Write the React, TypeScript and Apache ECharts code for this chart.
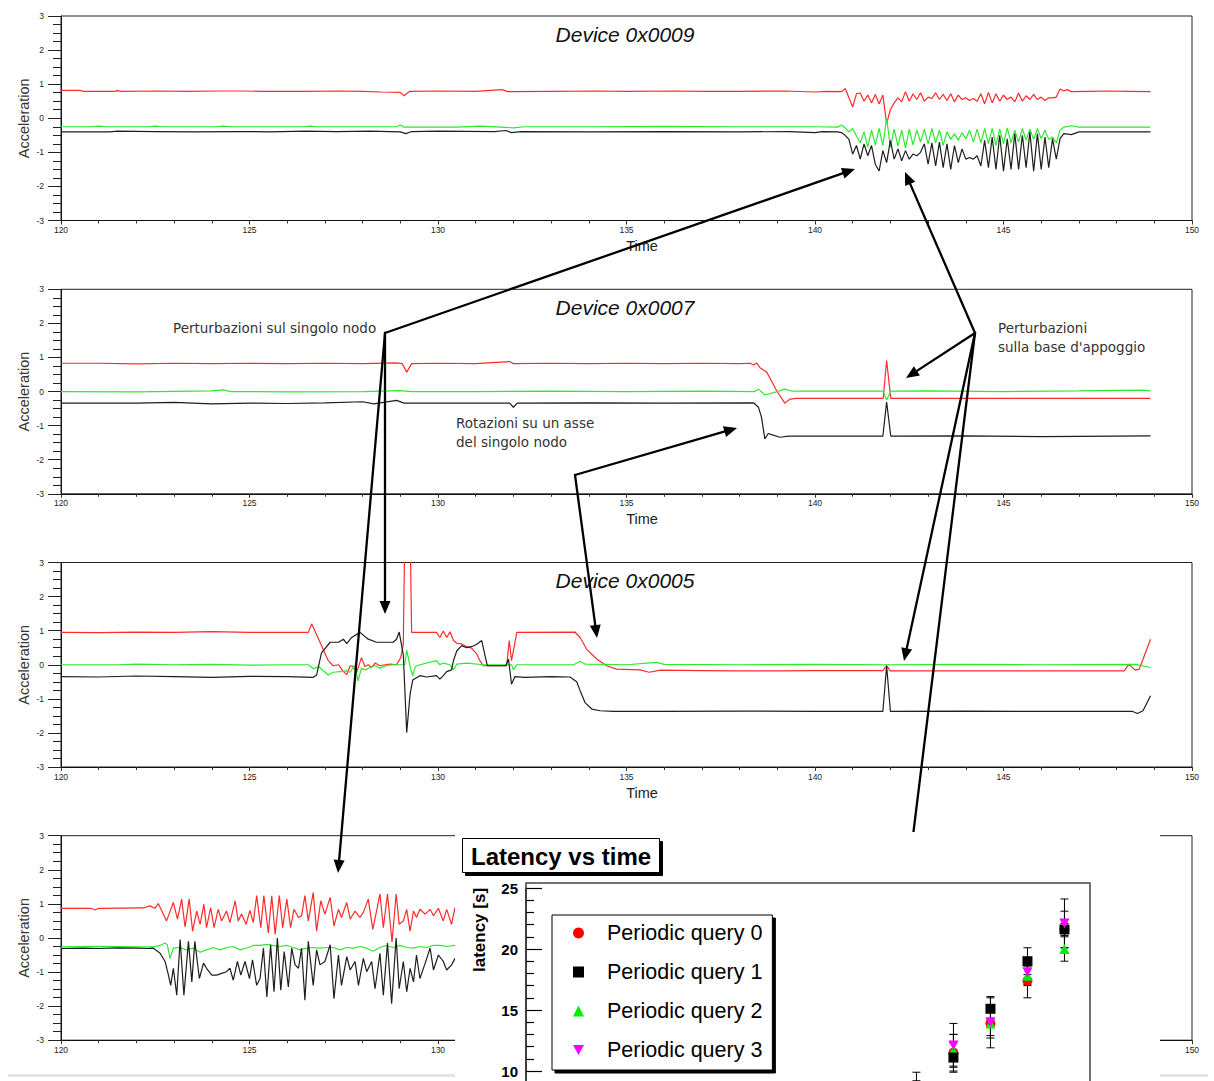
import React, { useEffect, useRef } from "react";
import * as echarts from "echarts";

type Pt = [number, number];

// ---------- accelerometer panels ----------
const timeMin = 120;
const timeMax = 150;
const accMin = -3;
const accMax = 3;
const panelTitles = ["Device 0x0009", "Device 0x0007", "Device 0x0005", ""];

// Device 0x0009
const dev9X: Pt[] = [
  [120, 0.82], [120.5, 0.82], [120.6, 0.79], [121.4, 0.79], [121.5, 0.81], [121.6, 0.79], [122.6, 0.8], [123.3, 0.79],
  [124.2, 0.8], [124.8, 0.8], [125.3, 0.79], [126.5, 0.79], [127.4, 0.8], [128.0, 0.79], [128.5, 0.77], [129.0, 0.76],
  [129.1, 0.66], [129.25, 0.79], [130, 0.8], [131.0, 0.79], [131.7, 0.84], [131.85, 0.78], [133, 0.79], [134.2, 0.8],
  [135, 0.79], [136.3, 0.8], [137, 0.79], [138, 0.79], [139.2, 0.8], [140.0, 0.77], [140.3, 0.79], [140.7, 0.78],
  [140.8, 0.87], [140.9, 0.6], [141.0, 0.33], [141.1, 0.72], [141.2, 0.74], [141.3, 0.5], [141.4, 0.68], [141.5, 0.45],
  [141.6, 0.7], [141.7, 0.42], [141.8, 0.68], [141.9, -0.16], [142.0, 0.25], [142.1, 0.45], [142.2, 0.6], [142.3, 0.48],
  [142.4, 0.78], [142.5, 0.5], [142.6, 0.72], [142.7, 0.55], [142.8, 0.75], [142.9, 0.5], [143.0, 0.62], [143.1, 0.58],
  [143.2, 0.75], [143.3, 0.55], [143.4, 0.7], [143.5, 0.52], [143.6, 0.72], [143.7, 0.48], [143.8, 0.68], [143.9, 0.55],
  [144.0, 0.6], [144.1, 0.52], [144.2, 0.58], [144.3, 0.5], [144.4, 0.72], [144.5, 0.42], [144.6, 0.76], [144.7, 0.45],
  [144.8, 0.72], [144.9, 0.5], [145.0, 0.68], [145.1, 0.55], [145.2, 0.62], [145.3, 0.48], [145.4, 0.74], [145.5, 0.5],
  [145.6, 0.66], [145.7, 0.55], [145.8, 0.7], [145.9, 0.55], [146.0, 0.62], [146.1, 0.52], [146.2, 0.6], [146.3, 0.6],
  [146.4, 0.62], [146.5, 0.86], [146.6, 0.8], [146.7, 0.84], [146.8, 0.78], [147.3, 0.79], [147.8, 0.8], [148.3, 0.79],
  [148.9, 0.78],
];
const dev9Y: Pt[] = [
  [120, -0.25], [120.8, -0.25], [121.0, -0.23], [121.2, -0.25], [122.3, -0.25], [122.5, -0.23], [122.7, -0.25],
  [124.1, -0.25], [124.3, -0.23], [124.5, -0.25], [126.4, -0.25], [126.6, -0.23], [126.8, -0.25], [128.9, -0.25],
  [129.0, -0.2], [129.1, -0.26], [130.5, -0.26], [131.1, -0.23], [131.3, -0.24], [132.0, -0.28], [132.3, -0.25],
  [134, -0.25], [136, -0.24], [138, -0.25], [140, -0.25], [140.6, -0.26],
  [140.7, -0.2], [140.8, -0.28], [140.9, -0.4], [141.0, -0.3], [141.1, -0.52], [141.2, -0.72], [141.3, -0.4],
  [141.4, -0.85], [141.5, -0.35], [141.6, -0.78], [141.7, -0.3], [141.8, -0.8], [141.9, 0.0], [142.0, -0.85],
  [142.1, -0.32], [142.2, -0.82], [142.3, -0.35], [142.4, -0.88], [142.5, -0.32], [142.6, -0.78], [142.7, -0.35],
  [142.8, -0.7], [142.9, -0.32], [143.0, -0.75], [143.1, -0.3], [143.2, -0.72], [143.3, -0.35], [143.4, -0.8],
  [143.5, -0.4], [143.6, -0.62], [143.7, -0.45], [143.8, -0.65], [143.9, -0.42], [144.0, -0.6], [144.1, -0.35],
  [144.2, -0.7], [144.3, -0.32], [144.4, -0.72], [144.5, -0.3], [144.6, -0.75], [144.7, -0.3], [144.8, -0.8],
  [144.9, -0.32], [145.0, -0.75], [145.1, -0.28], [145.2, -0.72], [145.3, -0.35], [145.4, -0.7], [145.5, -0.3],
  [145.6, -0.65], [145.7, -0.32], [145.8, -0.62], [145.9, -0.3], [146.0, -0.6], [146.1, -0.35], [146.2, -0.62],
  [146.3, -0.55], [146.4, -0.72], [146.5, -0.35], [146.6, -0.26], [146.8, -0.22], [147.0, -0.26], [148, -0.26],
  [148.9, -0.26],
];
const dev9Z: Pt[] = [
  [120, -0.4], [121.3, -0.4], [121.5, -0.38], [122.5, -0.39], [123.5, -0.4], [124.8, -0.39], [125.5, -0.4],
  [126.5, -0.38], [127.3, -0.39], [128.2, -0.38], [129.0, -0.4], [129.15, -0.45], [129.3, -0.39], [130, -0.38],
  [131.5, -0.39], [131.8, -0.36], [131.95, -0.42], [132.2, -0.39], [134, -0.4], [136, -0.39], [138, -0.4],
  [139.3, -0.39], [140.0, -0.42], [140.2, -0.39], [140.6, -0.4],
  [140.7, -0.42], [140.8, -0.5], [140.9, -0.62], [141.0, -1.05], [141.1, -0.8], [141.2, -1.2], [141.3, -0.75],
  [141.4, -1.1], [141.5, -0.8], [141.6, -1.35], [141.7, -1.55], [141.8, -0.95], [141.9, -1.3], [142.0, -0.65],
  [142.1, -1.2], [142.2, -0.9], [142.3, -1.25], [142.4, -0.95], [142.5, -1.2], [142.6, -1.05], [142.7, -1.1],
  [142.8, -1.0], [142.9, -0.75], [143.0, -1.35], [143.1, -0.72], [143.2, -1.4], [143.3, -0.7], [143.4, -1.45],
  [143.5, -0.75], [143.6, -1.5], [143.7, -0.8], [143.8, -1.3], [143.9, -0.9], [144.0, -1.2], [144.1, -1.15],
  [144.2, -1.2], [144.3, -1.1], [144.4, -1.4], [144.5, -0.65], [144.6, -1.45], [144.7, -0.55], [144.8, -1.5],
  [144.9, -0.5], [145.0, -1.55], [145.1, -0.6], [145.2, -1.5], [145.3, -0.45], [145.4, -1.5], [145.5, -0.5],
  [145.6, -1.45], [145.7, -0.4], [145.8, -1.55], [145.9, -0.45], [146.0, -1.5], [146.1, -0.55], [146.2, -1.45],
  [146.3, -0.6], [146.4, -1.2], [146.5, -0.6], [146.6, -0.45], [146.8, -0.48], [147, -0.4], [148, -0.4], [148.9, -0.4],
];

// Device 0x0007
const dev7X: Pt[] = [
  [120, 0.83], [121, 0.83], [122, 0.81], [123, 0.83], [124, 0.82], [125, 0.83], [126, 0.82], [127, 0.83], [128, 0.82],
  [128.9, 0.84], [129.05, 0.82], [129.17, 0.57], [129.3, 0.82], [130, 0.83], [131, 0.82], [131.9, 0.88], [132.0, 0.82],
  [133, 0.83], [134, 0.82], [135, 0.83], [136, 0.82], [137, 0.83], [138, 0.82], [138.28, 0.83], [138.37, 0.78],
  [138.45, 0.84], [138.54, 0.7], [138.72, 0.57], [138.98, 0.03], [139.2, -0.34], [139.34, -0.22], [139.5, -0.2],
  [141.81, -0.2], [141.9, 0.91], [142.01, -0.2], [144, -0.2], [146, -0.2], [148.9, -0.2],
];
const dev7Y: Pt[] = [
  [120, 0.0], [122, -0.01], [124, 0.02], [124.3, 0.05], [124.5, 0.0], [126, -0.01], [128, 0.0], [129, 0.03],
  [129.3, 0.0], [131, 0.0], [133, 0.01], [135, 0.0], [137, 0.01], [138.4, 0.0], [138.5, 0.07], [138.67, -0.1],
  [139.0, 0.0], [139.2, 0.07], [139.4, 0.01], [141.81, 0.01], [141.9, -0.25], [142.01, 0.01], [143, 0.02],
  [145, 0.0], [147, 0.02], [148.7, 0.04], [148.9, 0.02],
];
const dev7Z: Pt[] = [
  [120, -0.34], [122, -0.34], [123, -0.32], [124, -0.36], [125, -0.34], [126, -0.35], [127, -0.33], [128, -0.3],
  [128.3, -0.36], [128.9, -0.26], [129.1, -0.34], [131.9, -0.34], [132.0, -0.46], [132.1, -0.34], [134, -0.33],
  [136, -0.34], [138.37, -0.33], [138.5, -0.46], [138.58, -0.75], [138.67, -1.39], [138.76, -1.23], [138.89, -1.28],
  [139.07, -1.34], [139.3, -1.31], [141.8, -1.31], [141.9, -0.31], [142.01, -1.31], [144, -1.3], [146, -1.32],
  [148.9, -1.3],
];

// Device 0x0005
const dev5X: Pt[] = [
  [120, 0.95], [121, 0.94], [122, 0.96], [123, 0.95], [124, 0.97], [125, 0.95], [126, 0.95], [126.56, 0.95],
  [126.65, 1.2], [126.87, 0.66], [127.09, 0.12], [127.22, -0.03], [127.36, 0.0], [127.49, -0.2], [127.58, -0.29],
  [127.67, -0.03], [127.75, -0.05], [127.84, -0.23], [127.97, 0.21], [128.06, -0.05], [128.15, 0.0], [128.24, -0.08],
  [128.33, 0.05], [128.46, -0.03], [128.59, 0.0], [128.73, 0.02], [128.9, 0.0], [129.01, 0.21], [129.08, 0.6],
  [129.12, 4], [129.26, 4], [129.3, 0.95], [129.96, 0.95], [130.05, 0.8], [130.14, 0.99], [130.23, 0.8],
  [130.32, 0.97], [130.41, 0.71], [130.5, 0.63], [130.63, 0.61], [130.76, 0.53], [130.89, 0.49], [131.03, 0.31],
  [131.11, 0.12], [131.2, -0.03], [131.82, -0.03], [131.89, 0.71], [131.95, 0.12], [132.0, 0.41], [132.09, 0.95],
  [133.63, 0.96], [133.77, 0.8], [133.94, 0.46], [134.21, 0.17], [134.47, -0.03], [134.74, -0.13], [135.36, -0.15],
  [135.6, -0.22], [135.9, -0.16], [137, -0.17], [138, -0.18], [139, -0.18], [140, -0.17], [141.8, -0.17],
  [141.9, -0.03], [142.0, -0.18], [144, -0.18], [146, -0.18], [147.81, -0.18], [148.2, -0.18], [148.33, 0.02],
  [148.49, -0.16], [148.6, -0.13], [148.9, 0.75],
];
const dev5Y: Pt[] = [
  [120, 0.0], [121.5, 0.0], [122, 0.02], [123, 0.0], [124, 0.01], [125, -0.01], [126, 0.0], [126.56, 0.0],
  [126.7, -0.12], [126.83, -0.05], [127.09, -0.3], [127.22, -0.22], [127.4, -0.2], [127.58, -0.18], [127.67, -0.22],
  [127.79, -0.02], [127.88, -0.47], [127.97, -0.1], [128.06, -0.15], [128.2, -0.08], [128.33, -0.02], [128.46, -0.1],
  [128.64, -0.02], [128.81, 0.0], [128.97, 0.0], [129.12, 0.0], [129.17, 0.43], [129.26, -0.05], [129.33, -0.32],
  [129.4, -0.05], [129.52, 0.0], [129.96, 0.12], [130.05, 0.0], [130.14, 0.05], [130.32, 0.0], [130.41, -0.15],
  [130.5, 0.02], [130.76, 0.05], [131.2, 0.0], [131.95, 0.0], [132.0, -0.15], [132.09, 0.0], [133.6, 0.0],
  [133.77, 0.1], [133.9, 0.02], [135.0, 0.0], [135.8, 0.07], [136, 0.01], [138, 0.0], [140, 0.01], [142, 0.0],
  [144, 0.01], [146, 0.0], [148.5, 0.01], [148.9, -0.08],
];
const dev5Z: Pt[] = [
  [120, -0.35], [121, -0.36], [122, -0.33], [123, -0.35], [124, -0.37], [125, -0.34], [126, -0.35], [126.69, -0.37],
  [126.78, -0.3], [126.91, 0.35], [127.14, 0.66], [127.36, 0.66], [127.49, 0.75], [127.58, 0.62], [127.71, 0.8],
  [127.93, 0.95], [128.15, 0.75], [128.37, 0.66], [128.81, 0.66], [128.9, 0.75], [128.97, 0.96], [129.08, 0.3],
  [129.17, -1.99], [129.26, -0.86], [129.33, -0.45], [129.52, -0.32], [129.7, -0.36], [129.96, -0.32],
  [130.05, -0.42], [130.14, -0.32], [130.23, -0.2], [130.36, -0.15], [130.41, 0.12], [130.5, 0.41], [130.63, 0.56],
  [130.76, 0.5], [130.89, 0.53], [131.03, 0.6], [131.16, 0.71], [131.25, 0.25], [131.31, -0.03], [131.8, -0.03],
  [131.87, 0.17], [131.95, -0.57], [132.04, -0.35], [132.3, -0.37], [133.0, -0.35], [133.5, -0.36], [133.68, -0.5],
  [133.77, -0.76], [133.9, -1.11], [134.08, -1.3], [134.3, -1.35], [134.65, -1.37], [136, -1.37], [138, -1.36],
  [140, -1.37], [141.8, -1.37], [141.9, -0.03], [142.0, -1.37], [144, -1.36], [146, -1.37], [148.43, -1.37],
  [148.55, -1.43], [148.7, -1.35], [148.9, -0.91],
];

// Fourth device (trace continues under the latency inset)
const dev4X: Pt[] = [
  [120, 0.87], [120.8, 0.87], [120.9, 0.82], [121.0, 0.87], [122.18, 0.88], [122.36, 0.94], [122.49, 0.87],
  [122.58, 1.01], [122.8, 0.5], [122.98, 1.04], [123.09, 0.55], [123.2, 1.14], [123.29, 0.32], [123.4, 1.14],
  [123.49, 0.2], [123.6, 0.79], [123.69, 0.4], [123.79, 0.99], [123.86, 0.3], [123.97, 0.89], [124.06, 0.3],
  [124.17, 0.84], [124.26, 0.5], [124.39, 0.79], [124.48, 0.45], [124.62, 1.09], [124.7, 0.5], [124.79, 0.7],
  [124.91, 0.4], [125.01, 0.81], [125.1, 0.45], [125.19, 1.24], [125.3, 0.3], [125.38, 1.24], [125.5, 0.15],
  [125.59, 1.24], [125.68, 0.1], [125.79, 1.24], [125.88, 0.3], [125.99, 1.14], [126.09, 0.3], [126.18, 0.84],
  [126.3, 0.6], [126.38, 0.65], [126.47, 1.24], [126.56, 0.5], [126.69, 1.33], [126.78, 0.2], [126.89, 1.09],
  [127.0, 0.7], [127.14, 1.19], [127.24, 0.35], [127.36, 0.84], [127.44, 0.6], [127.58, 1.04], [127.67, 0.55],
  [127.8, 0.79], [127.93, 0.6], [128.02, 0.75], [128.15, 1.14], [128.27, 0.25], [128.37, 0.79], [128.46, 1.29],
  [128.55, 0.3], [128.66, 1.29], [128.78, -0.12], [128.89, 1.29], [128.97, 0.4], [129.08, 0.5], [129.17, 0.84],
  [129.26, 0.2], [129.35, 0.79], [129.43, 0.6], [129.52, 0.84], [129.66, 0.7], [129.79, 0.84], [129.88, 0.65],
  [130.01, 0.87], [130.14, 0.5], [130.23, 0.84], [130.36, 0.4], [130.45, 0.89], [130.58, 0.6],
];
const dev4Y: Pt[] = [
  [120, -0.26], [121, -0.25], [122, -0.26], [122.45, -0.26], [122.63, -0.22], [122.76, -0.15], [122.82, -0.2],
  [122.89, -0.6], [122.98, -0.3], [123.15, -0.28], [123.33, -0.35], [123.5, -0.3], [123.69, -0.42], [123.86, -0.35],
  [124.04, -0.28], [124.22, -0.35], [124.39, -0.28], [124.57, -0.25], [124.75, -0.35], [124.97, -0.28], [125.1, -0.22],
  [125.28, -0.22], [125.46, -0.19], [125.63, -0.22], [125.81, -0.25], [125.99, -0.22], [126.16, -0.28],
  [126.34, -0.35], [126.52, -0.3], [126.69, -0.28], [126.87, -0.3], [127.05, -0.28], [127.22, -0.28], [127.4, -0.35],
  [127.58, -0.28], [127.75, -0.3], [127.93, -0.25], [128.11, -0.3], [128.28, -0.39], [128.46, -0.28], [128.64, -0.22],
  [128.81, -0.28], [128.99, -0.22], [129.17, -0.28], [129.35, -0.3], [129.52, -0.25], [129.7, -0.28], [129.88, -0.22],
  [130.05, -0.22], [130.23, -0.25], [130.45, -0.22], [130.6, -0.22],
];
const dev4Z: Pt[] = [
  [120, -0.31], [120.6, -0.3], [121, -0.31], [121.5, -0.29], [122, -0.3], [122.3, -0.31], [122.45, -0.3],
  [122.63, -0.45], [122.76, -0.69], [122.85, -1.09], [122.91, -1.39], [122.98, -0.89], [123.07, -1.68],
  [123.16, -0.05], [123.26, -1.68], [123.38, -0.1], [123.47, -1.29], [123.55, -0.1], [123.67, -1.19],
  [123.78, -0.74], [123.86, -0.89], [124.0, -1.09], [124.13, -1.09], [124.26, -1.04], [124.39, -0.99],
  [124.48, -0.89], [124.57, -1.24], [124.68, -0.69], [124.77, -1.09], [124.88, -0.69], [125.0, -1.19],
  [125.08, -0.64], [125.19, -1.39], [125.28, -1.19], [125.37, -0.3], [125.46, -1.73], [125.56, -0.2],
  [125.65, -1.58], [125.74, 0.0], [125.83, -1.53], [125.92, -0.4], [126.03, -1.44], [126.12, -0.3], [126.21, -0.79],
  [126.3, -0.89], [126.38, -0.3], [126.47, -1.83], [126.56, -0.1], [126.69, -1.39], [126.78, -0.35], [126.87, -0.79],
  [127.0, -0.69], [127.14, -0.2], [127.24, -1.78], [127.36, -0.5], [127.44, -1.39], [127.58, -0.55], [127.67, -0.94],
  [127.8, -0.69], [127.89, -1.39], [128.02, -0.6], [128.11, -0.99], [128.24, -0.69], [128.33, -1.49], [128.46, -0.45],
  [128.55, -1.68], [128.66, -0.15], [128.77, -1.93], [128.89, 0.0], [128.97, -1.49], [129.08, -0.69], [129.17, -1.58],
  [129.26, -0.89], [129.35, -1.29], [129.43, -0.5], [129.52, -1.19], [129.66, -0.74], [129.79, -0.3], [129.88, -0.94],
  [130.01, -0.5], [130.14, -0.69], [130.23, -0.94], [130.36, -0.79], [130.45, -0.6], [130.58, -0.89],
];

const panelSeries: Pt[][][] = [
  [dev9X, dev9Y, dev9Z],
  [dev7X, dev7Y, dev7Z],
  [dev5X, dev5Y, dev5Z],
  [dev4X, dev4Y, dev4Z],
];
const axisColors = ["#ff2a2a", "#2eea2e", "#1e1e1e"];
// the fourth panel's time labels between 130 and 150 sit under the inset
const panel4VisibleTicks = [120, 125, 130, 150];

// ---------- latency inset ----------
const latencyTimes = [10, 11, 12, 13, 14];
const latencyNames = ["Periodic query 0", "Periodic query 1", "Periodic query 2", "Periodic query 3"];
const query0 = [7.6, 11.5, 13.9, 17.4, 21.6];
const query1 = [7.9, 11.1, 15.1, 19.0, 21.6];
const query2 = [7.4, 11.7, 13.9, 17.8, 20.0];
const query3 = [7.3, 12.1, 14.0, 18.1, 22.1];
const query0Err = [1.6, 1.5, 1.0, 1.4, 0.5];
const query1Err = [2.0, 1.2, 0.9, 1.1, 1.5];
const query2Err = [1.5, 1.3, 1.2, 0.8, 1.0];
const query3Err = [1.6, 1.8, 2.1, 1.0, 2.0];
const latencyTicks = { min: 0, max: 25, step: 5, firstShown: 10 };

// ---------- layout ----------
const panelTops = [16, 289.3, 562.5, 835.7];
const panelHeight = 204.5;
const sansFont = '"Liberation Sans", Arial, sans-serif';
const noteFont = '13.5px "DejaVu Sans", Verdana, sans-serif';

type XY = [number, number];

function arrow(from: XY, to: XY, withHead = true): any[] {
  const dx = to[0] - from[0];
  const dy = to[1] - from[1];
  const len = Math.hypot(dx, dy);
  const ux = dx / len;
  const uy = dy / len;
  const headLen = 13;
  const half = 5.5;
  const end: XY = withHead ? [to[0] - ux * 8, to[1] - uy * 8] : to;
  const out: any[] = [
    {
      type: "line",
      z: 100,
      shape: { x1: from[0], y1: from[1], x2: end[0], y2: end[1] },
      style: { stroke: "#000", lineWidth: 2.3, lineCap: "round" },
    },
  ];
  if (withHead) {
    const bx = to[0] - ux * headLen;
    const by = to[1] - uy * headLen;
    out.push({
      type: "polygon",
      z: 101,
      shape: {
        points: [
          [to[0], to[1]],
          [bx - uy * half, by + ux * half],
          [bx + uy * half, by - ux * half],
        ],
      },
      style: { fill: "#000" },
    });
  }
  return out;
}

function note(text: string, x: number, y: number, font: string, align = "left", fill = "#333"): any {
  return {
    type: "text",
    z: 102,
    x,
    y,
    style: {
      text,
      font,
      fill,
      align,
      verticalAlign: "middle",
      textAlign: align,
      textVerticalAlign: "middle",
    },
  };
}

function buildMainOption(): any {
  const grid = panelTops.map((top) => ({
    left: 61,
    right: 22,
    top,
    height: panelHeight,
    show: true,
    borderColor: "#222",
    borderWidth: 1,
    backgroundColor: "transparent",
  }));

  const xAxis = panelTops.map((_, i) => ({
    gridIndex: i,
    type: "value",
    min: timeMin,
    max: timeMax,
    interval: 5,
    name: i < 3 ? "Time" : "",
    nameLocation: "middle",
    nameGap: 18,
    nameMoveOverlap: false,
    nameTextStyle: { fontSize: 14.5, color: "#222", fontFamily: sansFont, padding: [0, 0, 0, 31] },
    axisLine: { show: true, onZero: false, lineStyle: { color: "#111", width: 1 } },
    axisTick: { show: true, length: 4, lineStyle: { color: "#333" } },
    minorTick: { show: true, splitNumber: 5, length: 3, lineStyle: { color: "#333" } },
    axisLabel: {
      fontSize: 8.5,
      color: "#222",
      margin: 5,
      fontFamily: sansFont,
      formatter: (v: number) => (i < 3 || panel4VisibleTicks.includes(v) ? String(v) : ""),
    },
    splitLine: { show: false },
    minorSplitLine: { show: false },
  }));

  const yAxis = panelTops.map((_, i) => ({
    gridIndex: i,
    type: "value",
    min: accMin,
    max: accMax,
    interval: 1,
    name: "Acceleration",
    nameLocation: "middle",
    nameGap: 30,
    nameMoveOverlap: false,
    nameTextStyle: { fontSize: 14.5, color: "#3a3330", fontFamily: sansFont },
    axisLine: { show: true, onZero: false, lineStyle: { color: "#111", width: 1 } },
    axisTick: { show: true, length: 13, lineStyle: { color: "#222" } },
    minorTick: { show: true, splitNumber: 4, length: 8, lineStyle: { color: "#222" } },
    axisLabel: { fontSize: 8.5, color: "#222", margin: 17, fontFamily: sansFont },
    splitLine: { show: false },
    minorSplitLine: { show: false },
  }));

  const series: any[] = [];
  panelSeries.forEach((traces, i) => {
    traces.forEach((data, k) => {
      series.push({
        type: "line",
        name: `panel${i}-${k}`,
        xAxisIndex: i,
        yAxisIndex: i,
        data,
        symbol: "none",
        showSymbol: false,
        clip: true,
        lineStyle: { color: axisColors[k], width: 1.2 },
        itemStyle: { color: axisColors[k] },
        z: 2 + k,
      });
    });
  });

  const A: XY = [385, 333];
  const B: XY = [575, 475];
  const C: XY = [975, 333];

  const graphic: any[] = [
    { type: "rect", z: 1, shape: { x: 8, y: 1074, width: 1200, height: 3 }, style: { fill: "#e4e4e8" } },
    ...panelTitles
      .filter((t) => t)
      .map((t, i) => note(t, 625, panelTops[i] + 18, `italic 21px ${sansFont}`, "center", "#111")),
    note("Perturbazioni sul singolo nodo", 173, 328, noteFont),
    note("Rotazioni su un asse", 456, 423, noteFont),
    note("del singolo nodo", 456, 442, noteFont),
    note("Perturbazioni", 998, 328, noteFont),
    note("sulla base d'appoggio", 998, 347, noteFont),
    ...arrow(A, [855, 169]),
    ...arrow(A, [385, 614]),
    ...arrow(A, [338, 873]),
    ...arrow(B, [737, 428]),
    ...arrow(B, [597, 638]),
    ...arrow(C, [905, 172]),
    ...arrow(C, [906, 378]),
    ...arrow(C, [904, 661]),
    ...arrow(C, [910, 860], false),
  ];

  return {
    animation: false,
    backgroundColor: "#fff",
    textStyle: { fontFamily: sansFont },
    grid,
    xAxis,
    yAxis,
    series,
    graphic,
  };
}

function buildLatencyOption(): any {
  const queries = [
    { name: latencyNames[0], values: query0, err: query0Err, color: "#ff0000", symbol: "circle", size: 10 },
    { name: latencyNames[1], values: query1, err: query1Err, color: "#000000", symbol: "rect", size: 10 },
    { name: latencyNames[2], values: query2, err: query2Err, color: "#00ee00", symbol: "triangle", size: 10 },
    { name: latencyNames[3], values: query3, err: query3Err, color: "#ff00ff", symbol: "path://M0,0L10,0L5,9Z", size: 10 },
  ];
  // drawing order: red, green, black, magenta on top
  const drawOrder = [0, 2, 1, 3];

  const errorSeries = queries.map((q) => ({
    type: "custom",
    name: q.name + " error",
    xAxisIndex: 0,
    yAxisIndex: 0,
    z: 2,
    data: latencyTimes.map((t, i) => [t, q.values[i], q.err[i]]),
    encode: { x: 0, y: 1 },
    renderItem: (_params: any, api: any) => {
      const t = api.value(0);
      const v = api.value(1);
      const e = api.value(2);
      const hi = api.coord([t, v + e]);
      const lo = api.coord([t, v - e]);
      const s = { stroke: "#000", lineWidth: 1 };
      return {
        type: "group",
        children: [
          { type: "line", shape: { x1: hi[0], y1: hi[1], x2: lo[0], y2: lo[1] }, style: s },
          { type: "line", shape: { x1: hi[0] - 4, y1: hi[1], x2: hi[0] + 4, y2: hi[1] }, style: s },
          { type: "line", shape: { x1: lo[0] - 4, y1: lo[1], x2: lo[0] + 4, y2: lo[1] }, style: s },
        ],
      };
    },
  }));

  const pointSeries = drawOrder.map((idx, n) => {
    const q = queries[idx];
    return {
      type: "scatter",
      name: q.name,
      z: 5 + n,
      data: latencyTimes.map((t, i) => [t, q.values[i]]),
      symbol: q.symbol,
      symbolSize: q.size,
      itemStyle: { color: q.color, opacity: 1 },
    };
  });

  return {
    animation: false,
    textStyle: { fontFamily: sansFont },
    title: {
      text: "Latency vs time",
      left: 7,
      top: 6,
      padding: [6, 9, 5, 9],
      backgroundColor: "#fff",
      borderColor: "#000",
      borderWidth: 1,
      shadowColor: "#000",
      shadowOffsetX: 3,
      shadowOffsetY: 3,
      shadowBlur: 0,
      textStyle: { fontSize: 24, fontWeight: "bold", color: "#000", fontFamily: sansFont },
    },
    legend: {
      orient: "vertical",
      left: 97,
      top: 83,
      padding: [7, 10, 9, 21],
      itemGap: 17,
      itemWidth: 11,
      itemHeight: 11,
      selectedMode: false,
      backgroundColor: "#fff",
      borderColor: "#000",
      borderWidth: 1,
      shadowColor: "#000",
      shadowOffsetX: 3,
      shadowOffsetY: 3,
      shadowBlur: 0,
      textStyle: { fontSize: 21.5, lineHeight: 22, color: "#000", fontFamily: sansFont, padding: [0, 0, 0, 18] },
      data: queries.map((q) => ({ name: q.name, icon: q.symbol })),
    },
    grid: { left: 71, right: 70, top: 56, height: 305 },
    xAxis: { type: "value", min: -0.55, max: 14.69, show: false },
    yAxis: {
      type: "value",
      min: latencyTicks.min,
      max: latencyTicks.max,
      interval: latencyTicks.step,
      axisLine: { show: true, onZero: false, lineStyle: { color: "#000", width: 1.5 } },
      axisTick: { show: true, inside: true, length: 16, lineStyle: { color: "#000", width: 1.2 } },
      minorTick: { show: true, splitNumber: 5, length: 8, lineStyle: { color: "#000", width: 1.2 } },
      axisLabel: {
        fontSize: 15,
        fontWeight: "bold",
        color: "#000",
        margin: 8,
        fontFamily: sansFont,
        formatter: (v: number) => (v >= latencyTicks.firstShown ? String(v) : ""),
      },
      splitLine: { show: false },
      minorSplitLine: { show: false },
    },
    series: [...errorSeries, ...pointSeries],
    graphic: [
      {
        type: "polyline",
        z: 10,
        shape: { points: [[71, 57], [71, 51], [635, 51], [635, 400]] },
        style: { stroke: "#444", lineWidth: 1.5, fill: null },
      },
      {
        type: "text",
        z: 10,
        x: 24,
        y: 98,
        rotation: Math.PI / 2,
        style: {
          text: "latency [s]",
          font: `bold 17px ${sansFont}`,
          fill: "#000",
          align: "center",
          verticalAlign: "middle",
          textAlign: "center",
          textVerticalAlign: "middle",
        },
      },
    ],
  };
}

export default function App() {
  const mainRef = useRef<HTMLDivElement>(null);
  const latRef = useRef<HTMLDivElement>(null);

  useEffect(() => {
    const main = echarts.init(mainRef.current!, null, { renderer: "svg" });
    main.setOption(buildMainOption());
    const lat = echarts.init(latRef.current!, null, { renderer: "svg" });
    lat.setOption(buildLatencyOption());
    return () => {
      main.dispose();
      lat.dispose();
    };
  }, []);

  return (
    <div style={{ position: "fixed", left: 0, top: 0, width: 1214, height: 1081, background: "#fff", overflow: "hidden" }}>
      <div ref={mainRef} style={{ position: "absolute", left: 0, top: 0, width: 1214, height: 1081 }} />
      <div
        style={{
          position: "absolute",
          left: 455,
          top: 832,
          width: 705,
          height: 249,
          overflow: "hidden",
          background: "#fff",
        }}
      >
        <div ref={latRef} style={{ width: 705, height: 400 }} />
      </div>
    </div>
  );
}
